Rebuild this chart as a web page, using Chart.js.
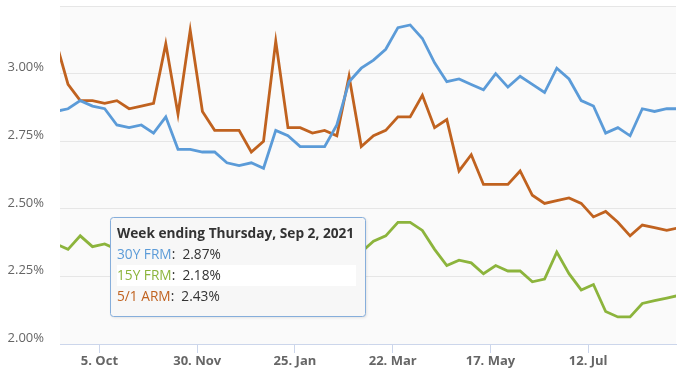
<!DOCTYPE html>
<html>
<head>
<meta charset="utf-8">
<script src="https://cdn.jsdelivr.net/npm/chart.js@4"></script>
<style>
  html, body { margin: 0; padding: 0; background: #fff; }
  #wrap { width: 681px; height: 373px; position: relative; }
</style>
</head>
<body>
<div id="wrap"><canvas id="rates"></canvas></div>
<script>
// weekly survey dates (week ending Thursday)
var weekEnding = [
  '2020-09-10','2020-09-17','2020-09-24','2020-10-01','2020-10-08','2020-10-15','2020-10-22','2020-10-29',
  '2020-11-05','2020-11-12','2020-11-19','2020-11-26','2020-12-03','2020-12-10','2020-12-17','2020-12-24','2020-12-31',
  '2021-01-07','2021-01-14','2021-01-21','2021-01-28','2021-02-04','2021-02-11','2021-02-18','2021-02-25',
  '2021-03-04','2021-03-11','2021-03-18','2021-03-25','2021-04-01','2021-04-08','2021-04-15','2021-04-22','2021-04-29',
  '2021-05-06','2021-05-13','2021-05-20','2021-05-27','2021-06-03','2021-06-10','2021-06-17','2021-06-24',
  '2021-07-01','2021-07-08','2021-07-15','2021-07-22','2021-07-29','2021-08-05','2021-08-12','2021-08-19','2021-08-26','2021-09-02'
];

var seriesNames = ['30Y FRM', '15Y FRM', '5/1 ARM'];

var frm30 = [2.86,2.87,2.90,2.88,2.87,2.81,2.80,2.81,2.78,2.84,2.72,2.72,2.71,2.71,2.67,2.66,2.67,
  2.65,2.79,2.77,2.73,2.73,2.73,2.81,2.97,3.02,3.05,3.09,3.17,3.18,3.13,3.04,2.97,2.98,
  2.96,2.94,3.00,2.95,2.99,2.96,2.93,3.02,2.98,2.90,2.88,2.78,2.80,2.77,2.87,2.86,2.87,2.87];

var frm15 = [2.37,2.35,2.40,2.36,2.37,2.35,2.33,2.33,2.33,2.36,2.28,2.28,2.26,2.26,2.21,2.17,2.17,
  2.16,2.23,2.21,2.20,2.21,2.19,2.21,2.34,2.34,2.38,2.40,2.45,2.45,2.42,2.35,2.29,2.31,
  2.30,2.26,2.29,2.27,2.27,2.23,2.24,2.34,2.26,2.20,2.22,2.12,2.10,2.10,2.15,2.16,2.17,2.18];

var arm51 = [3.12,2.96,2.90,2.90,2.89,2.90,2.87,2.88,2.89,3.11,2.85,3.16,2.86,2.79,2.79,2.79,2.71,
  2.75,3.12,2.80,2.80,2.78,2.79,2.77,2.99,2.73,2.77,2.79,2.84,2.84,2.92,2.80,2.83,2.64,
  2.70,2.59,2.59,2.59,2.64,2.55,2.52,2.53,2.54,2.52,2.47,2.49,2.45,2.40,2.44,2.43,2.42,2.43];

var tickDates  = ['2020-10-05','2020-11-30','2021-01-25','2021-03-22','2021-05-17','2021-07-12'];
var tickLabels = ['5. Oct','30. Nov','25. Jan','22. Mar','17. May','12. Jul'];

var yTicks = [2.00, 2.25, 2.50, 2.75, 3.00, 3.25];

var colors = ['#5b9bd8', '#8cb43c', '#c0621f'];

function day(s) { return Date.parse(s + 'T00:00:00Z') / 864e5; }

function points(values) {
  return values.map(function(v, i) { return { x: day(weekEnding[i]), y: v }; });
}

var tickDays = tickDates.map(day);
var xStart = day('2020-09-17') - 4.6;
var xEnd = day('2020-09-17') + 348.3;

Chart.defaults.font.family = '"Open Sans", "Liberation Sans", sans-serif';

// light grey plot band behind the lines
var plotBackground = {
  id: 'plotBackground',
  beforeDraw: function(chart) {
    var a = chart.chartArea, c = chart.ctx;
    c.save();
    c.fillStyle = '#fafafa';
    c.fillRect(a.left, a.top, a.right - a.left, a.bottom - a.top);
    c.restore();
  }
};

// fixed tooltip box for the latest week
var weekTooltip = {
  id: 'weekTooltip',
  afterDraw: function(chart) {
    var c = chart.ctx;
    var last = weekEnding.length - 1;
    var d = new Date(weekEnding[last] + 'T00:00:00Z');
    var title = 'Week ending ' + d.toLocaleDateString('en-US', {
      weekday: 'long', month: 'short', day: 'numeric', year: 'numeric', timeZone: 'UTC'
    });
    var vals = chart.data.datasets.map(function(ds) { return ds.data[last].y; });

    var x = 110.5, y = 217.5, w = 255, h = 99;
    c.save();
    c.shadowColor = 'rgba(0,0,0,0.12)';
    c.shadowOffsetX = 1; c.shadowOffsetY = 1; c.shadowBlur = 3;
    c.beginPath();
    c.roundRect(x, y, w, h, 3);
    c.fillStyle = '#f7f7f7';
    c.fill();
    c.shadowColor = 'transparent';
    c.lineWidth = 1;
    c.strokeStyle = '#86aedb';
    c.stroke();

    c.fillStyle = '#ffffff';
    c.fillRect(117, 265, 239, 21);

    c.textBaseline = 'middle';
    c.textAlign = 'left';
    c.font = 'bold 13.7px "Open Sans", sans-serif';
    c.fillStyle = '#333333';
    c.fillText(title, 117, 234);

    c.font = '13.7px "Open Sans", sans-serif';
    var rows = [255, 276, 297];
    for (var i = 0; i < seriesNames.length; i++) {
      c.fillStyle = colors[i];
      c.fillText(seriesNames[i], 117, rows[i]);
      var nw = c.measureText(seriesNames[i]).width;
      c.fillStyle = '#333333';
      c.fillText(':  ' + vals[i].toFixed(2) + '%', 117 + nw, rows[i]);
    }
    c.restore();
  }
};

var ctx = document.getElementById('rates').getContext('2d');

var chart = new Chart(ctx, {
  type: 'line',
  data: {
    datasets: [
      { label: seriesNames[0], data: points(frm30), borderColor: colors[0] },
      { label: seriesNames[1], data: points(frm15), borderColor: colors[1] },
      { label: seriesNames[2], data: points(arm51), borderColor: colors[2] }
    ]
  },
  options: {
    responsive: true,
    maintainAspectRatio: false,
    animation: false,
    layout: { padding: { top: 6, right: 5, left: 0, bottom: 0 } },
    elements: {
      line: { borderWidth: 2.8, tension: 0, fill: false },
      point: { radius: 0, hoverRadius: 0 }
    },
    plugins: {
      legend: { display: false },
      tooltip: { enabled: false }
    },
    events: [],
    scales: {
      x: {
        type: 'linear',
        min: xStart,
        max: xEnd,
        afterBuildTicks: function(scale) {
          scale.ticks = tickDays.map(function(v) { return { value: v }; });
        },
        afterFit: function(scale) {
          scale.height = 29;
          scale.paddingLeft = 0; scale.paddingRight = 0;
        },
        grid: { drawOnChartArea: false, drawTicks: true, tickLength: 9, color: '#ccd6eb' },
        border: { display: true, color: '#ccd6eb', width: 1 },
        ticks: {
          autoSkip: false,
          maxRotation: 0,
          padding: 0,
          color: '#666666',
          font: { size: 13, weight: 'bold' },
          callback: function(value, index) { return tickLabels[index]; }
        }
      },
      y: {
        min: yTicks[0],
        max: yTicks[yTicks.length - 1],
        afterBuildTicks: function(scale) {
          scale.ticks = yTicks.map(function(v) { return { value: v }; });
        },
        afterFit: function(scale) {
          scale.width = 60;
          scale.paddingTop = 0; scale.paddingBottom = 0;
        },
        grid: { color: '#e6e6e6', drawTicks: false },
        border: { display: false },
        ticks: {
          padding: 16,
          labelOffset: -6,
          color: '#666666',
          font: { size: 13 },
          callback: function(value) {
            return value === yTicks[yTicks.length - 1] ? '' : value.toFixed(2) + '%';
          }
        }
      }
    }
  },
  plugins: [plotBackground, weekTooltip]
});
</script>
</body>
</html>
